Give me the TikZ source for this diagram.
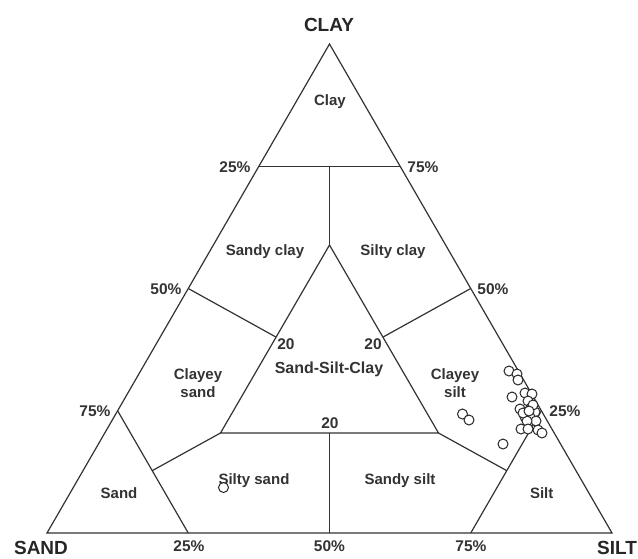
\documentclass[tikz,border=0pt]{standalone}
\usepackage{fontspec}
\setmainfont{Liberation Sans}
\usetikzlibrary{calc}
\begin{document}
\begin{tikzpicture}[x=1pt,y=-1pt,
  edge/.style={line width=1.2pt, draw=black!80},
  lbl/.style={font=\fontsize{15}{17.5}\selectfont\bfseries, text=black!80, align=center, inner sep=0},
  pct/.style={font=\fontsize{15.5}{17}\selectfont\bfseries, text=black!80, inner sep=0},
  corner/.style={font=\fontsize{19}{21}\selectfont\bfseries, text=black!85, inner sep=0},
  dot/.style={circle, draw=black!85, fill=white, line width=1pt, minimum size=10pt, inner sep=0}]
\useasboundingbox (0,0) rectangle (638,558);
% outer triangle
\coordinate (A) at (47,533);
\coordinate (B) at (612,533);
\coordinate (C) at (329.5,44);
% inner triangle
\coordinate (Ia) at (329.5,245);
\coordinate (Ib) at (220.5,433);
\coordinate (Ic) at (438.5,433);
% derived points
\coordinate (L75) at ($(A)!0.75!(C)$);
\coordinate (R75) at ($(B)!0.75!(C)$);
\coordinate (M75) at ($(L75)!0.5!(R75)$);
\coordinate (L50) at ($(A)!0.5!(C)$);
\coordinate (R50) at ($(B)!0.5!(C)$);
\coordinate (L25) at ($(A)!0.25!(C)$);
\coordinate (R25) at ($(B)!0.25!(C)$);
\coordinate (B25) at ($(A)!0.25!(B)$);
\coordinate (B50) at ($(A)!0.5!(B)$);
\coordinate (B75) at ($(A)!0.75!(B)$);
\coordinate (IbcM) at ($(Ib)!0.5!(Ic)$);
\coordinate (IL) at ($(Ia)!0.49!(Ib)$);
\coordinate (IR) at ($(Ia)!0.49!(Ic)$);
\coordinate (SJ) at ($(B25)!0.51!(L25)$);
\coordinate (TJ) at ($(B75)!0.51!(R25)$);

\draw[edge] (A) -- (B) -- (C) -- cycle;
\draw[edge] (Ia) -- (Ib) -- (Ic) -- cycle;
\draw[edge] (L75) -- (R75);
\draw[edge] (M75) -- (Ia);
\draw[edge] (L50) -- (IL);
\draw[edge] (R50) -- (IR);
\draw[edge] (L25) -- (B25);
\draw[edge] (R25) -- (B75);
\draw[edge] (B50) -- (IbcM);
\draw[edge] (Ib) -- (SJ);
\draw[edge] (Ic) -- (TJ);

% corner labels
\node[corner] (nclay) at (329,24.5) {CLAY};
\node[corner] (nsand) at (41,548) {SAND};
\node[corner] (nsilt) at (617,548) {SILT};

% percent labels
\node[pct] (p1) at (235,167) {25\%};
\node[pct] (p2) at (423,167) {75\%};
\node[pct] (p3) at (166,289) {50\%};
\node[pct] (p4) at (493,289) {50\%};
\node[pct] (p5) at (95,411.5) {75\%};
\node[pct] (p6) at (565,411.5) {25\%};
\node[pct] (p7) at (189,546) {25\%};
\node[pct] (p8) at (329.5,546) {50\%};
\node[pct] (p9) at (471,546) {75\%};
\node[pct] (t1) at (286,344) {20};
\node[pct] (t2) at (373,344) {20};
\node[pct] (t3) at (330,423) {20};

% region labels
\node[lbl] (rclay) at (330,102) {Clay};
\node[lbl] (rsc) at (265,252) {Sandy clay};
\node[lbl] (rsic) at (393,252) {Silty clay};
\node[lbl, font=\fontsize{16}{18}\selectfont\bfseries] (rssc) at (329,369) {Sand-Silt-Clay};
\node[lbl] (rcs) at (198,383) {Clayey\\sand};
\node[lbl] (rcsi) at (455,383) {Clayey\\silt};
\node[lbl] (rsand) at (119,493) {Sand};
\node[lbl] (rsilt) at (541.7,493) {Silt};
\node[lbl] (rss) at (254,481) {Silty sand};
\node[lbl] (rsis) at (400,481) {Sandy silt};

% data points
\foreach \i/\x/\y in {1/509/371, 2/517/374, 3/518/380, 4/512/397, 5/525/393,
  6/532/394, 7/528/401, 8/520/409, 9/531/408, 10/535/412, 11/525/417,
  12/530/417, 13/536/421, 14/527/421, 15/521/429, 16/528/429, 17/538/430,
  18/542/433, 19/503/444, 20/533/405, 21/523/413, 22/529/411,
  23/462.5/414, 24/469/420, 25/223.5/487.5}
  \node[dot] (d\i) at (\x,\y) {};
\end{tikzpicture}
\end{document}
